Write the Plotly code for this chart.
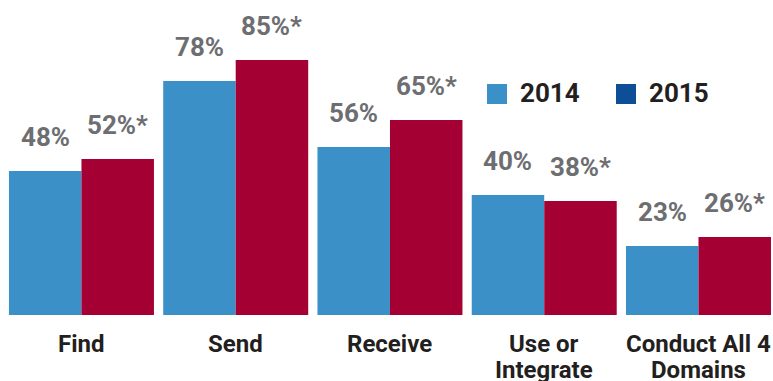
import plotly.graph_objects as go

categories = ["Find", "Send", "Receive", "Use or<br>Integrate", "Conduct All 4<br>Domains"]
years = ["2014", "2015"]
values_2014 = [48, 78, 56, 40, 23]
values_2015 = [52, 85, 65, 38, 26]
labels_2014 = ["48%", "78%", "56%", "40%", "23%"]
labels_2015 = ["52%*", "85%*", "65%*", "38%*", "26%*"]

bar_colors = ["#3b91c7", "#a50034"]
legend_colors = ["#3b91c7", "#0e4e96"]
FONT = "Roboto, sans-serif"
GRAY = "#6d6e71"
DARK = "#231f20"

W, H = 773, 381
fig = go.Figure()
for vals, col in [(values_2014, bar_colors[0]), (values_2015, bar_colors[1])]:
    fig.add_trace(go.Bar(x=list(range(len(categories))), y=vals, marker_color=col,
                         marker_line_width=0, showlegend=False, hoverinfo="skip"))

annotations = []
bw = 72.5
for i in range(len(categories)):
    for vals, labs, sh in [(values_2014, labels_2014, -bw / 2), (values_2015, labels_2015, bw / 2)]:
        annotations.append(dict(x=i, y=vals[i], xref="x", yref="y", text="<b>%s</b>" % labs[i],
                                showarrow=False, xanchor="center", yanchor="bottom",
                                xshift=sh, yshift=17,
                                font=dict(family=FONT, size=26, color=GRAY)))
    lines = categories[i].split("<br>")
    for j, ln in enumerate(lines):
        annotations.append(dict(x=i, y=0, xref="x", yref="paper", text="<b>%s</b>" % ln,
                                showarrow=False, xanchor="center", yanchor="top",
                                yshift=-13 - 26 * j,
                                font=dict(family=FONT, size=24, color=DARK)))

# legend
PH = 315
shapes = []
leg_x = [487, 616]
for k, yr in enumerate(years):
    x0 = leg_x[k]
    shapes.append(dict(type="rect", xref="paper", yref="paper",
                       x0=x0 / W, x1=(x0 + 20) / W, y0=(PH - 104) / PH, y1=(PH - 84) / PH,
                       fillcolor=legend_colors[k], line_width=0))
    annotations.append(dict(x=(x0 + 31) / W, y=(PH - 93.5) / PH, xref="paper", yref="paper",
                            text="<b>%s</b>" % yr, showarrow=False, xanchor="left", yanchor="middle",
                            font=dict(family=FONT, size=26, color=DARK)))

fig.update_layout(
    width=W, height=H, margin=dict(l=0, r=0, t=0, b=66),
    plot_bgcolor="white", paper_bgcolor="white",
    barmode="group", bargap=0.06, bargroupgap=0,
    xaxis=dict(range=[-0.528, 4.483], showticklabels=False, showgrid=False, zeroline=False,
               showline=False, ticks=""),
    yaxis=dict(range=[0, 105], visible=False, showgrid=False, zeroline=False),
    annotations=annotations, shapes=shapes,
)
fig.write_html("out.html")
